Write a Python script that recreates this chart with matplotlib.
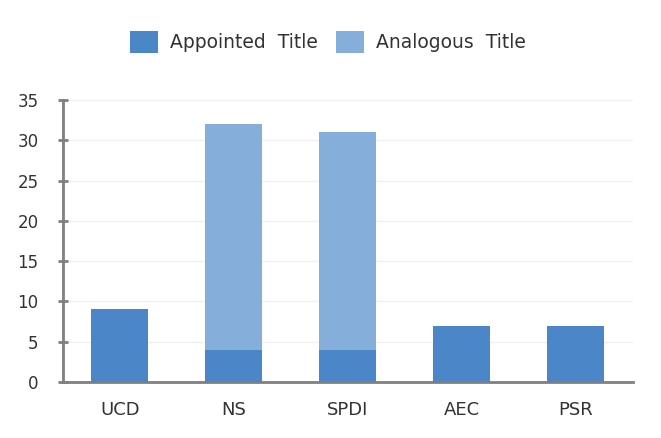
import numpy as np
import matplotlib.pyplot as plt

plt.rcParams['font.family'] = ['DejaVu Sans']

# data
categories = ['UCD', 'NS', 'SPDI', 'AEC', 'PSR']
appointed = [9, 4, 4, 7, 7]
analogous = [0, 28, 27, 0, 0]

fig = plt.figure(figsize=(6.61, 4.38), dpi=100)
ax = fig.add_axes([0.0953, 0.1279, 0.8623, 0.6438])

x = np.arange(len(categories))
ax.bar(x, appointed, width=0.5, color='#4a86c8', label='Appointed  Title', zorder=3)
ax.bar(x, analogous, width=0.5, bottom=appointed, color='#86aedb',
       label='Analogous  Title', zorder=3)

ax.set_xlim(-0.5, 4.5)
ax.set_ylim(0, 35)
ax.set_yticks(range(0, 36, 5))
ax.set_xticks(x)
ax.set_xticklabels(categories)

ax.grid(axis='y', color='#f0f0f0', linewidth=1, zorder=0)
for s in ['top', 'right']:
    ax.spines[s].set_visible(False)
for s in ['left', 'bottom']:
    ax.spines[s].set_color('#808080')
    ax.spines[s].set_linewidth(2)

ax.tick_params(axis='y', direction='inout', length=7, width=2, color='#808080',
               labelsize=12, labelcolor='#333333', pad=14)
ax.tick_params(axis='x', length=0, labelsize=13, labelcolor='#333333', pad=14)

ax.legend(loc='center', bbox_to_anchor=(0.465, 1.205), ncol=2, frameon=False,
          fontsize=13.5, handlelength=1.45, handleheight=1.45, handletextpad=0.65,
          columnspacing=1.0, labelcolor='#333333')

fig.savefig('out.png', dpi=100)
